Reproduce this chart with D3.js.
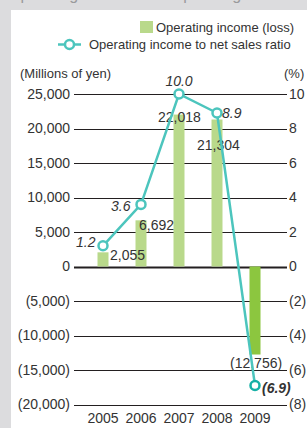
<!DOCTYPE html>
<html>
<head>
<meta charset="utf-8">
<script src="https://cdn.jsdelivr.net/npm/d3@7"></script>
<style>
  body { margin: 0; padding: 0; background: #dcdcde; }
  svg { display: block; }
  text { font-family: "Liberation Sans", Arial, sans-serif; fill: #333; }
</style>
</head>
<body>
<svg id="chart" width="307" height="428"></svg>
<script>
// data
var years = ["2005", "2006", "2007", "2008", "2009"];
var income = [2055, 6692, 22018, 21304, -12756];
var incomeLabels = ["2,055", "6,692", "22,018", "21,304", "(12,756)"];
var ratio = [1.2, 3.6, 10.0, 8.9, -6.9];
var ratioLabels = ["1.2", "3.6", "10.0", "8.9", "(6.9)"];
var leftTicks = [25000, 20000, 15000, 10000, 5000, 0, -5000, -10000, -15000, -20000];
var rightTicks = [10, 8, 6, 4, 2, 0, -2, -4, -6, -8];

var barColor = "#b9d98b";
var lossColor = "#8cc63f";
var lineColor = "#4cc5bd";

var svg = d3.select("#chart");

// panel
svg.append("rect").attr("x", 0).attr("y", 0).attr("width", 307).attr("height", 428).attr("fill", "#dcdcde");
svg.append("rect").attr("x", 11).attr("y", 10).attr("width", 296).attr("height", 418).attr("fill", "#fff");

// clipped title from the page above
svg.append("text")
    .attr("x", 8).attr("y", 0)
    .attr("font-size", 16)
    .style("fill", "#9a9a9c")
    .text("Operating Income and Operating Income to Net Sales Ratio");

var x = d3.scalePoint().domain(years).range([84, 274]).padding(0.5);
var y = d3.scaleLinear().domain([-20000, 25000]).range([404.5, 94]);
var y2 = d3.scaleLinear().domain([-8, 10]).range([404.5, 94]);

var fmtLeft = function(d) { return d < 0 ? "(" + d3.format(",")(-d) + ")" : d3.format(",")(d); };
var fmtRight = function(d) { return d < 0 ? "(" + (-d) + ")" : d; };

// grid lines
svg.selectAll("line.grid").data(leftTicks).enter()
    .append("line")
    .attr("class", "grid")
    .attr("x1", 74).attr("x2", 287)
    .attr("y1", function(d) { return Math.round(y(d)) + 0.5; })
    .attr("y2", function(d) { return Math.round(y(d)) + 0.5; })
    .attr("stroke", "#231f20")
    .attr("stroke-width", function(d) { return d == 0 ? 2 : 1; });

// left axis labels
svg.selectAll("text.left").data(leftTicks).enter()
    .append("text")
    .attr("class", "left")
    .attr("x", 70)
    .attr("y", function(d) { return y(d); })
    .attr("dy", "0.35em")
    .attr("text-anchor", "end")
    .attr("font-size", 14)
    .text(fmtLeft);

// right axis labels
svg.selectAll("text.right").data(rightTicks).enter()
    .append("text")
    .attr("class", "right")
    .attr("x", 289)
    .attr("y", function(d) { return y2(d); })
    .attr("dy", "0.35em")
    .attr("text-anchor", "start")
    .attr("font-size", 14)
    .text(fmtRight);

svg.append("text").attr("x", 20).attr("y", 78).attr("font-size", 13).text("(Millions of yen)");
svg.append("text").attr("x", 284).attr("y", 78).attr("font-size", 13).text("(%)");

// bars
var barW = 11;
svg.selectAll("rect.bar").data(income).enter()
    .append("rect")
    .attr("class", "bar")
    .attr("x", function(d, i) { return x(years[i]) - barW / 2; })
    .attr("y", function(d) { return y(Math.max(0, d)); })
    .attr("width", barW)
    .attr("height", function(d) { return Math.abs(y(d) - y(0)); })
    .attr("fill", function(d) { return d < 0 ? lossColor : barColor; });

// bar labels
var barLabelPos = [[7, 3], [-2, 5], [-21, 3], [-20, 26], [-25, 9]];
svg.selectAll("text.barlabel").data(income).enter()
    .append("text")
    .attr("class", "barlabel")
    .attr("x", function(d, i) { return x(years[i]) + barLabelPos[i][0]; })
    .attr("y", function(d, i) { return y(d) + barLabelPos[i][1]; })
    .attr("dy", "0.35em")
    .attr("font-size", 14)
    .text(function(d, i) { return incomeLabels[i]; });

// x axis labels
svg.selectAll("text.year").data(years).enter()
    .append("text")
    .attr("class", "year")
    .attr("x", function(d) { return x(d); })
    .attr("y", 423)
    .attr("text-anchor", "middle")
    .attr("font-size", 14)
    .text(function(d) { return d; });

// ratio line
var line = d3.line()
    .x(function(d, i) { return x(years[i]); })
    .y(function(d) { return y2(d); });

svg.append("path")
    .datum(ratio)
    .attr("d", line)
    .attr("fill", "none")
    .attr("stroke", lineColor)
    .attr("stroke-width", 2.5);

svg.selectAll("circle.pt").data(ratio).enter()
    .append("circle")
    .attr("class", "pt")
    .attr("cx", function(d, i) { return x(years[i]); })
    .attr("cy", function(d) { return y2(d); })
    .attr("r", 4.5)
    .attr("fill", "#fff")
    .attr("stroke", function(d) { return d < 0 ? "#16b0a6" : lineColor; })
    .attr("stroke-width", 2.5);

// ratio labels
var ratioLabelPos = [[-27, -4, "start"], [-30, 2, "start"], [0, -13, "middle"], [5, 0, "start"], [7, 3, "start"]];
svg.selectAll("text.ratio").data(ratio).enter()
    .append("text")
    .attr("class", "ratio")
    .attr("x", function(d, i) { return x(years[i]) + ratioLabelPos[i][0]; })
    .attr("y", function(d, i) { return y2(d) + ratioLabelPos[i][1]; })
    .attr("dy", "0.35em")
    .attr("text-anchor", function(d, i) { return ratioLabelPos[i][2]; })
    .attr("font-size", 14)
    .attr("font-style", "italic")
    .attr("font-weight", function(d) { return d < 0 ? "bold" : "normal"; })
    .text(function(d, i) { return ratioLabels[i]; });

// legend
svg.append("rect").attr("x", 140).attr("y", 21).attr("width", 13).attr("height", 12).attr("fill", barColor);
svg.append("text").attr("x", 156).attr("y", 32).attr("font-size", 13).text("Operating income (loss)");
svg.append("line").attr("x1", 58).attr("x2", 81).attr("y1", 44.5).attr("y2", 44.5)
    .attr("stroke", lineColor).attr("stroke-width", 2.5);
svg.append("circle").attr("cx", 69.5).attr("cy", 44.5).attr("r", 4.5)
    .attr("fill", "#fff").attr("stroke", lineColor).attr("stroke-width", 2.5);
svg.append("text").attr("x", 89).attr("y", 49).attr("font-size", 13).text("Operating income to net sales ratio");
</script>
</body>
</html>
